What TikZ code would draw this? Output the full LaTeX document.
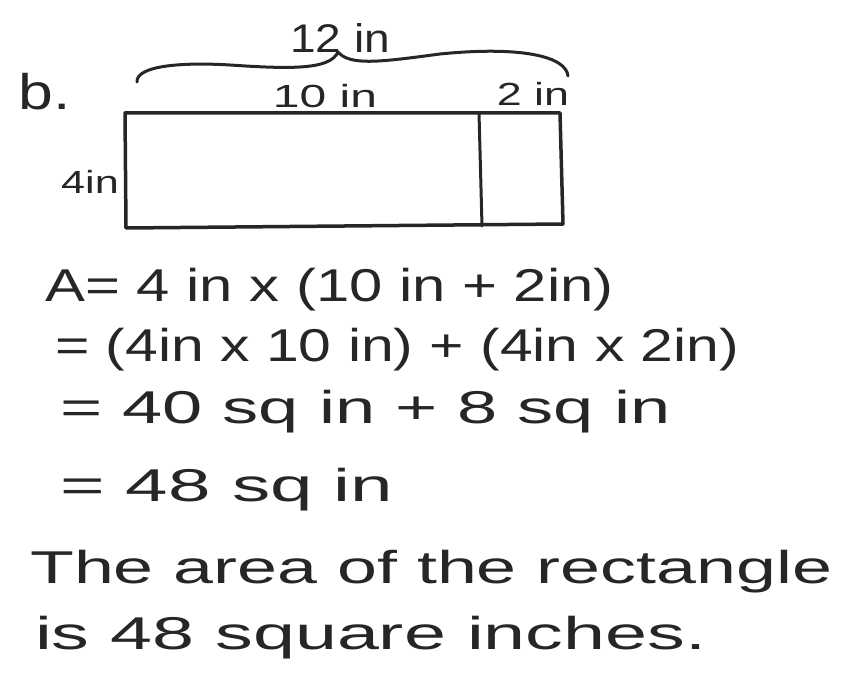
\documentclass[tikz,border=0pt]{standalone}
\usepackage{fontspec}
\setmainfont{Liberation Sans}
\newcommand{\wide}[2]{\scalebox{#1}[1]{#2}}
\begin{document}
\begin{tikzpicture}[x=1pt,y=-1pt,
  ink/.style={draw=black!85,line width=3.5pt,line join=round,line cap=round},
  hand/.style={inner sep=0pt,anchor=west,text=black!85,font=\fontsize{46}{50}\selectfont},
  small/.style={inner sep=0pt,text=black!85,font=\fontsize{32}{34}\selectfont}]
\useasboundingbox (0,0) rectangle (843,679);
% rectangle
\coordinate (tl) at (125,113);
\coordinate (tr) at (560,113);
\coordinate (br) at (563,224);
\coordinate (bl) at (126,228);
\coordinate (dt) at (479,113);
\coordinate (db) at (482,226);
\draw[ink] (tl) -- (tr) -- (br) -- (bl) -- cycle;
\draw[ink,line width=3pt] (dt) -- (db);
% brace
\coordinate (b0) at (137,82);
\coordinate (bm) at (338,52);
\coordinate (b1) at (568,76);
\draw[ink,line width=3pt] (b0) .. controls (136,66) and (180,62) .. (230,65)
  .. controls (290,69) and (330,70) .. (bm)
  .. controls (350,66) and (380,62) .. (440,54)
  .. controls (520,46) and (566,56) .. (b1);
% labels
\node[small,font=\fontsize{40}{42}\selectfont] (twelve) at (340,38) {\wide{1.15}{12 in}};
\node[small] (ten) at (325,96) {\wide{1.5}{10 in}};
\node[small] (two) at (533,94) {\wide{1.4}{2 in}};
\node[small,font=\fontsize{50}{52}\selectfont] (b) at (45,92) {\wide{1.25}{b.}};
\node[small] (four) at (90,182) {\wide{1.35}{4in}};
% equations
\node[hand] (l1) at (45,290) {\wide{1.30}{A= 4 in x (10 in + 2in)}};
\node[hand] (l2) at (55,350) {\wide{1.28}{= (4in x 10 in) + (4in x 2in)}};
\node[hand] (l3) at (60,412) {\wide{1.57}{= 40 sq in + 8 sq in}};
\node[hand] (l4) at (60,490) {\wide{1.66}{= 48 sq in}};
\node[hand] (l5) at (30,572) {\wide{1.56}{The area of the rectangle}};
\node[hand] (l6) at (35,638) {\wide{1.64}{is 48 square inches.}};
\end{tikzpicture}
\end{document}
